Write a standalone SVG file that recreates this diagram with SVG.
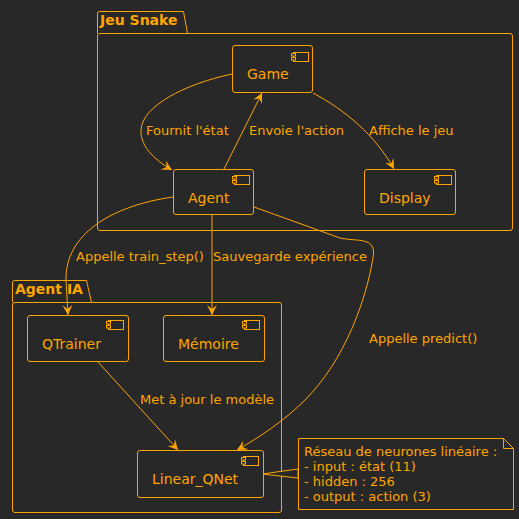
<svg xmlns="http://www.w3.org/2000/svg" width="519" height="519" viewBox="0 0 519 519">
<defs>
<style>
.bg{fill:#282828}
.box{fill:#282828;stroke:#FFA500;stroke-width:1}
.pkg{fill:none;stroke:#FFA500;stroke-width:1}
.t{font-family:"DejaVu Sans",sans-serif;font-size:13px;fill:#FFA500}
.n{font-family:"DejaVu Sans",sans-serif;font-size:14px;fill:#FFA500}
.tb{font-family:"DejaVu Sans",sans-serif;font-size:14px;font-weight:bold;fill:#FFA500}
.c{fill:none;stroke:#FFA500;stroke-width:1}
.ic{fill:#282828;stroke:#FFA500;stroke-width:1}
</style>
<marker id="ah" viewBox="0 0 10 10" refX="10" refY="5" markerWidth="10" markerHeight="10" markerUnits="userSpaceOnUse" orient="auto">
<path d="M0,0 L10,5 L0,10 L4,5 z" fill="#FFA500"/>
</marker>
</defs>
<rect class="bg" x="0" y="0" width="519" height="519"/>

<g id="pkg-jeu-snake">
<path class="pkg" d="M97.5,33.5 L97.5,13.5 Q97.5,11.5 99.5,11.5 L183.5,11.5 L187.5,33.5"/>
<rect class="pkg" x="97.5" y="33.5" width="415" height="197" rx="2.5"/>
<text class="tb" x="100" y="25">Jeu Snake</text>
</g>

<g id="pkg-agent-ia">
<path class="pkg" d="M12.5,302.5 L12.5,282.5 Q12.5,280.5 14.5,280.5 L86.5,280.5 L91.5,302.5"/>
<rect class="pkg" x="12.5" y="302.5" width="269" height="210" rx="2.5"/>
<text class="tb" x="15" y="294">Agent IA</text>
</g>

<g id="connectors">
<path class="c" marker-end="url(#ah)" d="M232,74 C185,84 142,106 141,130 C140,148 158,162 172,170"/>
<text class="t" x="146" y="135">Fournit l'état</text>
<path class="c" marker-end="url(#ah)" d="M224,169 L262,93"/>
<text class="t" x="249" y="135">Envoie l'action</text>
<path class="c" marker-end="url(#ah)" d="M313,93 C345,110 375,135 394,169"/>
<text class="t" x="369" y="135">Affiche le jeu</text>
<path class="c" marker-end="url(#ah)" d="M173,197 C110,206 65,235 66,280 L68,315"/>
<text class="t" x="76" y="261">Appelle train_step()</text>
<path class="c" marker-end="url(#ah)" d="M212,215 L212,315"/>
<text class="t" x="213" y="261">Sauvegarde expérience</text>
<path class="c" marker-end="url(#ah)" d="M254,207 L340,238 C358,242 377,236 373,258 C366,300 345,360 305,400 C285,420 260,437 237,450"/>
<text class="t" x="369" y="343">Appelle predict()</text>
<path class="c" marker-end="url(#ah)" d="M98,362 L178,450"/>
<text class="t" x="140" y="404">Met à jour le modèle</text>
<polygon class="box" points="298,469 262,474 298,478"/>
</g>

<g id="game">
<rect class="box" x="232.5" y="45.5" width="80" height="47" rx="2.5"/>
<rect class="ic" x="293.5" y="52.5" width="15" height="9"/>
<rect class="ic" x="291.5" y="53.5" width="4" height="2.5"/>
<rect class="ic" x="291.5" y="57.5" width="4" height="2.5"/>
<text class="n" x="247" y="79">Game</text>
</g>

<g id="agent">
<rect class="box" x="173.5" y="169.5" width="80" height="45" rx="2.5"/>
<rect class="ic" x="234.5" y="175.5" width="15" height="9"/>
<rect class="ic" x="232.5" y="176.5" width="4" height="2.5"/>
<rect class="ic" x="232.5" y="180.5" width="4" height="2.5"/>
<text class="n" x="188" y="203">Agent</text>
</g>

<g id="display">
<rect class="box" x="364.5" y="169.5" width="91" height="45" rx="2.5"/>
<rect class="ic" x="436.5" y="175.5" width="15" height="9"/>
<rect class="ic" x="434.5" y="176.5" width="4" height="2.5"/>
<rect class="ic" x="434.5" y="180.5" width="4" height="2.5"/>
<text class="n" x="379" y="203">Display</text>
</g>

<g id="qtrainer">
<rect class="box" x="27.5" y="315.5" width="101" height="46" rx="2.5"/>
<rect class="ic" x="108.5" y="320.5" width="15" height="9"/>
<rect class="ic" x="106.5" y="321.5" width="4" height="2.5"/>
<rect class="ic" x="106.5" y="325.5" width="4" height="2.5"/>
<text class="n" x="42" y="349">QTrainer</text>
</g>

<g id="memoire">
<rect class="box" x="163.5" y="315.5" width="101" height="46" rx="2.5"/>
<rect class="ic" x="244.5" y="320.5" width="15" height="9"/>
<rect class="ic" x="242.5" y="321.5" width="4" height="2.5"/>
<rect class="ic" x="242.5" y="325.5" width="4" height="2.5"/>
<text class="n" x="178" y="349">Mémoire</text>
</g>

<g id="linear-qnet">
<rect class="box" x="137.5" y="450.5" width="126" height="47" rx="2.5"/>
<rect class="ic" x="243.5" y="456.5" width="15" height="9"/>
<rect class="ic" x="241.5" y="457.5" width="4" height="2.5"/>
<rect class="ic" x="241.5" y="461.5" width="4" height="2.5"/>
<text class="n" x="152" y="484">Linear_QNet</text>
</g>

<g id="note">
<path class="box" d="M298.5,438.5 L503.5,438.5 L513.5,448.5 L513.5,509.5 L298.5,509.5 Z"/>
<path class="pkg" d="M503.5,438.5 L503.5,448.5 L513.5,448.5"/>
<text class="t" x="304" y="456">Réseau de neurones linéaire :</text>
<text class="t" x="304" y="471">- input : état (11)</text>
<text class="t" x="304" y="486">- hidden : 256</text>
<text class="t" x="304" y="501">- output : action (3)</text>
</g>
</svg>
